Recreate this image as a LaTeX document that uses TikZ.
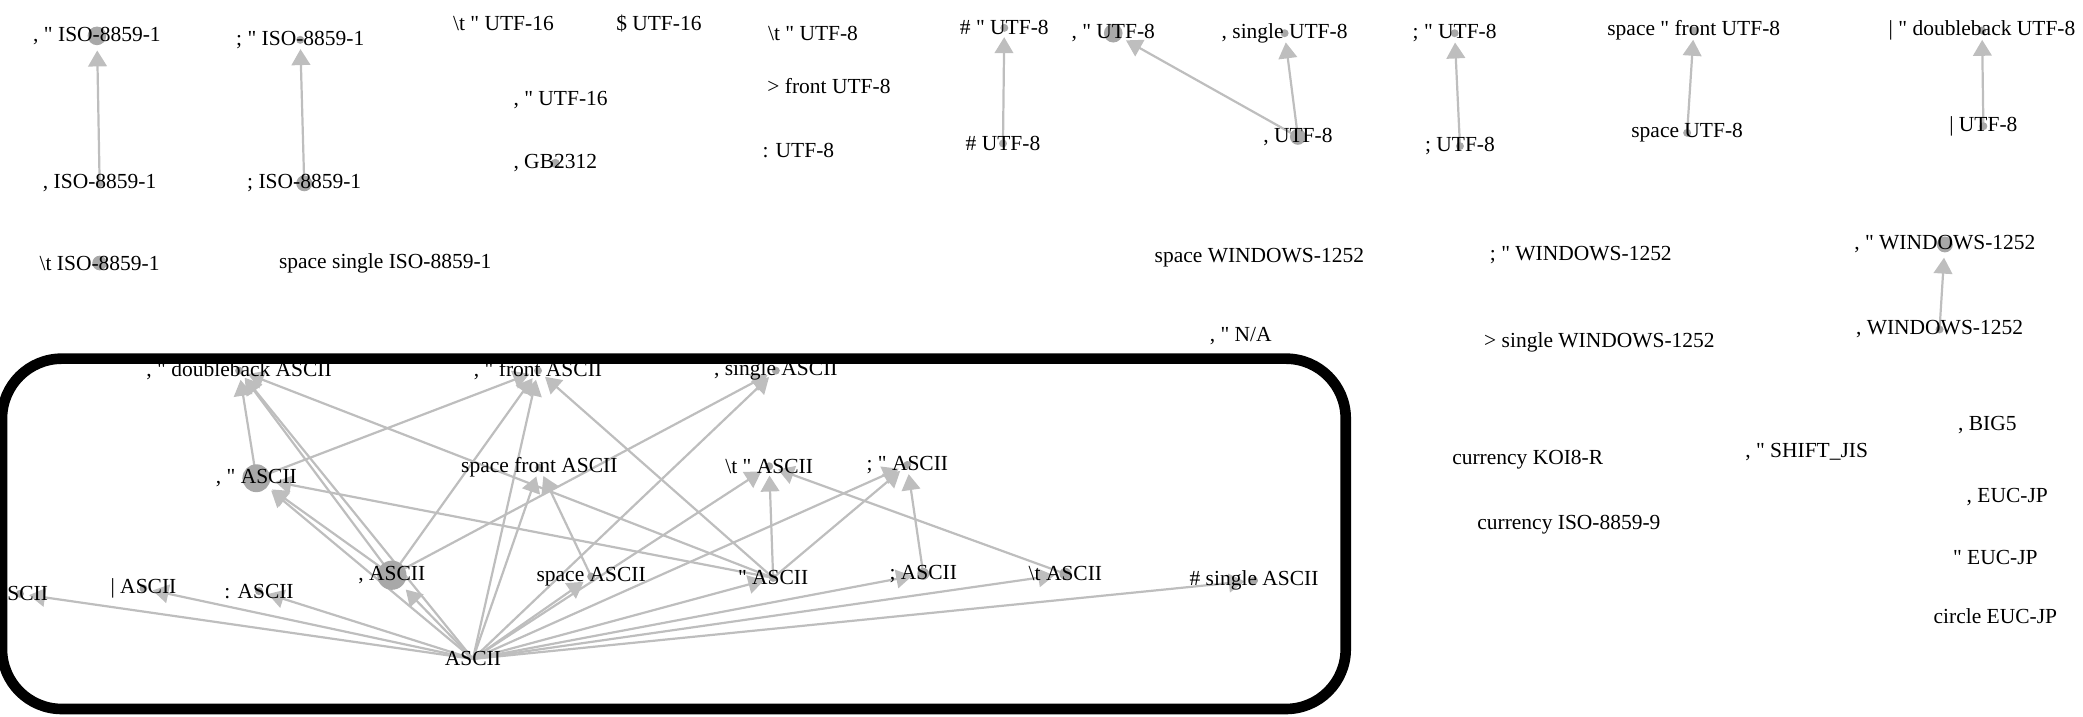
\documentclass[tikz,border=0pt]{standalone}
\usepackage{fontspec}
\setmainfont{Liberation Serif}[Ligatures=TeXOff]
\usetikzlibrary{arrows.meta}
\definecolor{dotgrey}{RGB}{168,168,168}
\definecolor{linkgrey}{RGB}{190,190,190}
\pgfdeclarelayer{back}
\pgfsetlayers{back,main}
\tikzset{
  enc/.style={circle,fill=dotgrey,inner sep=0pt,minimum size=#1,outer sep=1.2mm},
  enc/.default=1.8mm,
  link/.style={->,draw=linkgrey,line width=0.5mm}
}
\begin{document}
\begin{tikzpicture}[x=0.3mm,y=0.3mm,font=\fontsize{13.8}{16}\selectfont,>={Triangle[length=3.6mm,width=4.2mm]}]
  \useasboundingbox (0,0) rectangle (1568,539);
  % ISO-8859-1 and UTF-16
  \node[enc=4.2mm,label=center:{, " ISO-8859-1}] (isoqc) at (73,512) {};
  \node[enc,label=center:{; " ISO-8859-1}] (isoqs) at (226,509) {};
  \node[enc,label=center:{, ISO-8859-1}] (isoc) at (75,401) {};
  \node[enc=3.6mm,label=center:{; ISO-8859-1}] (isos) at (229,401) {};
  \node[enc=3.3mm,label=center:{\textbackslash t ISO-8859-1}] (isot) at (75,341) {};
  \node[enc=0mm,label=center:{space single ISO-8859-1}] (isospsg) at (290,341) {};
  \node[enc=0mm,label=center:{\textbackslash t " UTF-16}] (u16tq) at (379,521) {};
  \node[enc=0mm,label=center:{\$ UTF-16}] (u16d) at (496,521) {};
  \node[enc=0mm,label=center:{, " UTF-16}] (u16cq) at (422,464) {};
  \node[enc=2.1mm,label=center:{, GB2312}] (gbc) at (418,416) {};
  % UTF-8
  \node[enc=0mm,label=center:{\textbackslash t " UTF-8}] (u8tq) at (612,514) {};
  \node[enc=0mm,label=center:{> front UTF-8}] (u8gf) at (624,474) {};
  \node[enc=0mm,label=center:{: UTF-8}] (u8col) at (601,426) {};
  \node[enc,label=center:{\# " UTF-8}] (u8hq) at (756,518) {};
  \node[enc,label=center:{\# UTF-8}] (u8h) at (755,431) {};
  \node[enc=4.2mm,label=center:{, " UTF-8}] (u8cq) at (838,514) {};
  \node[enc,label=center:{, single UTF-8}] (u8cs) at (967,514) {};
  \node[enc=3.6mm,label=center:{, UTF-8}] (u8c) at (977,436) {};
  \node[enc,label=center:{; " UTF-8}] (u8sq) at (1095,514) {};
  \node[enc,label=center:{; UTF-8}] (u8s) at (1099,429) {};
  \node[enc,label=center:{space " front UTF-8}] (u8spqf) at (1275,516) {};
  \node[enc,label=center:{space UTF-8}] (u8sp) at (1270,439) {};
  \node[enc,label=center:{| " doubleback UTF-8}] (u8bq) at (1492,516) {};
  \node[enc,label=center:{| UTF-8}] (u8b) at (1493,444) {};
  % WINDOWS-1252 and the rest
  \node[enc=0mm,label=center:{space WINDOWS-1252}] (winsp) at (948,345) {};
  \node[enc=0mm,label=center:{; " WINDOWS-1252}] (winsq) at (1190,347) {};
  \node[enc=3.6mm,label=center:{, " WINDOWS-1252}] (wincq) at (1464,355) {};
  \node[enc,label=center:{, WINDOWS-1252}] (winc) at (1460,291) {};
  \node[enc=0mm,label=center:{, " N/A}] (nacq) at (934,286) {};
  \node[enc=0mm,label=center:{> single WINDOWS-1252}] (wingsg) at (1204,281) {};
  \node[enc=0mm,label=center:{currency KOI8-R}] (koi) at (1150,193) {};
  \node[enc=0mm,label=center:{currency ISO-8859-9}] (isonine) at (1181,144) {};
  \node[enc=0mm,label=center:{, " SHIFT\_JIS}] (sjis) at (1360,199) {};
  \node[enc=0mm,label=center:{, BIG5}] (bigfive) at (1496,219) {};
  \node[enc=0mm,label=center:{, EUC-JP}] (eucc) at (1511,165) {};
  \node[enc=0mm,label=center:{" EUC-JP}] (eucq) at (1502,119) {};
  \node[enc=0mm,label=center:{circle EUC-JP}] (euccirc) at (1502,75) {};
  % ASCII
  \node[enc=0mm,label=center:{ASCII}] (ascii) at (356,43) {};
  \node[enc,label=center:{, " doubleback ASCII}] (adbl) at (180,260) {};
  \node[enc,label=center:{, " front ASCII}] (afrq) at (405,260) {};
  \node[enc,label=center:{, single ASCII}] (asgl) at (584,260) {};
  \node[enc=6.3mm,label=center:{, " ASCII}] (acq) at (193,179) {};
  \node[enc,label=center:{space front ASCII}] (aspf) at (406,187) {};
  \node[enc,label=center:{\textbackslash t " ASCII}] (atq) at (579,188) {};
  \node[enc,label=center:{; " ASCII}] (asq) at (683,189) {};
  \node[enc=6.6mm,label=center:{, ASCII}] (ac) at (295,106) {};
  \node[enc,label=center:{space ASCII}] (asp) at (445,105) {};
  \node[enc,label=center:{" ASCII}] (aq) at (582,104) {};
  \node[enc=2.7mm,label=center:{; ASCII}] (as) at (695,107) {};
  \node[enc=2.7mm,label=center:{\textbackslash t ASCII}] (at) at (802,107) {};
  \node[enc,label=center:{\# single ASCII}] (ahsg) at (944,102) {};
  \node[enc,label=center:{| ASCII}] (abar) at (108,96) {};
  \node[enc,label=center:{: ASCII}] (acol) at (195,94) {};
  \node[enc,label=center:{ASCII}] (aleft) at (15,92) {};
  \begin{pgfonlayer}{back}
    \draw[link] (isoc.center) -- (isoqc);
    \draw[link] (isos.center) -- (isoqs);
    \draw[link] (u8h.center) -- (u8hq);
    \draw[link] (u8c.center) -- (u8cq);
    \draw[link] (u8c.center) -- (u8cs);
    \draw[link] (u8s.center) -- (u8sq);
    \draw[link] (u8sp.center) -- (u8spqf);
    \draw[link] (u8b.center) -- (u8bq);
    \draw[link] (winc.center) -- (wincq);
    % from ASCII
    \draw[link] (ascii.center) -- (aleft);
    \draw[link] (ascii.center) -- (abar);
    \draw[link] (ascii.center) -- (acol);
    \draw[link] (ascii.center) -- (ac);
    \draw[link] (ascii.center) -- (asp);
    \draw[link] (ascii.center) -- (aq);
    \draw[link] (ascii.center) -- (as);
    \draw[link] (ascii.center) -- (at);
    \draw[link] (ascii.center) -- (ahsg);
    \draw[link] (ascii.center) -- (acq);
    \draw[link] (ascii.center) -- (aspf);
    \draw[link] (ascii.center) -- (atq);
    \draw[link] (ascii.center) -- (asq);
    \draw[link] (ascii.center) -- (adbl);
    \draw[link] (ascii.center) -- (afrq);
    \draw[link] (ascii.center) -- (asgl);
    % second level
    \draw[link] (ac.center) -- (acq);
    \draw[link] (ac.center) -- (adbl);
    \draw[link] (ac.center) -- (afrq);
    \draw[link] (ac.center) -- (asgl);
    \draw[link] (acq.center) -- (adbl);
    \draw[link] (acq.center) -- (afrq);
    \draw[link] (aq.center) -- (acq);
    \draw[link] (aq.center) -- (adbl);
    \draw[link] (aq.center) -- (afrq);
    \draw[link] (aq.center) -- (atq);
    \draw[link] (aq.center) -- (asq);
    \draw[link] (asp.center) -- (aspf);
    \draw[link] (at.center) -- (atq);
    \draw[link] (as.center) -- (asq);
  \end{pgfonlayer}
  % frame round the ASCII group
  \draw[line width=2.4mm,rounded corners=13.5mm] (1.5,5.3) rectangle (1013,269);
\end{tikzpicture}
\end{document}
